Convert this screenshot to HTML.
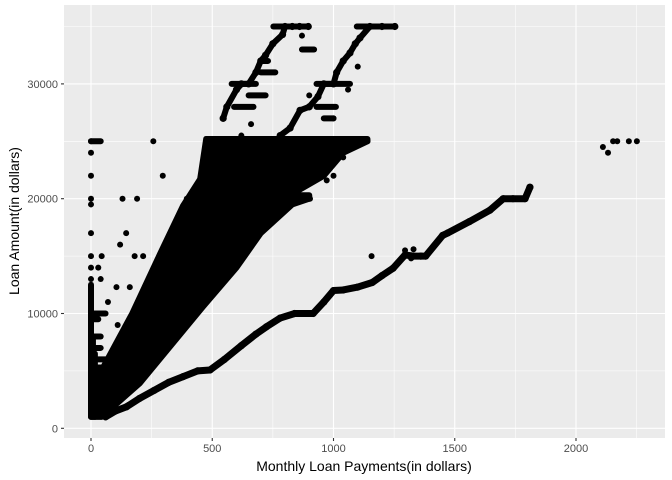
<!DOCTYPE html>
<html><head><meta charset="utf-8"><style>
body{margin:0;background:#fff}
svg{display:block;font-family:"Liberation Sans",Arial,sans-serif}
</style></head><body>
<svg id="chart" width="672" height="480">
<rect x="0" y="0" width="672" height="480" fill="#fff"/>
<rect x="64" y="5" width="601" height="433" fill="#EBEBEB"/>
<g id="grid"></g>
<g id="marks"></g>
<g id="axes"></g>
<text x="364" y="471" text-anchor="middle" font-size="14" fill="#000">Monthly Loan Payments(in dollars)</text>
<text transform="translate(19,221) rotate(-90)" text-anchor="middle" font-size="14" fill="#000">Loan Amount(in dollars)</text>
</svg>
<script>
const xTicks=[0,500,1000,1500,2000];
const xTickLabels=["0","500","1000","1500","2000"];
const yTicks=[0,10000,20000,30000];
const yTickLabels=["0","10000","20000","30000"];
const xMinor=[250,750,1250,1750,2250];
const yMinor=[5000,15000,25000,35000];
// dense main cloud outline (payment, amount)
const cloudX=[0,44,200,462,600,700,830,900,900,820,960,1040,1140,1140,475,450,380,285,170,50,0];
const cloudY=[1000,1000,3900,10600,14000,17000,19500,20000,20300,20300,22000,24000,25000,25200,25200,21700,19400,15200,10000,5300,5300];
// lower band
const lowX=[60,100,147,200,260,320,380,440,491,550,620,680,724,780,840,916,960,1000,1040,1100,1160,1200,1246,1295,1330,1360,1380,1450,1470,1560,1645,1700,1740,1790,1810];
const lowY=[1000,1500,1880,2600,3300,4000,4500,5000,5080,6000,7200,8200,8850,9600,10000,10000,11000,12000,12050,12300,12700,13300,13950,15100,15000,15000,15000,16800,17000,18000,19000,20000,20000,20000,21000];
// upper band 1
const b1X=[545,560,600,620,650,680,700,720,750,790,800,830,860,896];
const b1Y=[27000,28000,29500,30000,30000,31000,32000,32500,33500,34300,35000,35000,35000,35000];
// upper band 2
const b2X=[780,821,862,900,936,960,1000,1013,1040,1068,1090,1109,1150,1200,1253];
const b2Y=[25500,26150,27700,28000,28900,30000,30000,31000,32000,32700,33500,34000,35000,35000,35000];
// horizontal runs: start, end, amount
const hStart=[580,590,700,752,930,930,1096,0,395,475,600,0,0,0,0,0,0,20,700,870,960,650];
const hEnd=[680,670,730,896,1068,1010,1253,40,903,1140,900,60,60,40,40,30,25,60,760,920,1000,720];
const hAmt=[30000,28000,32000,35000,30000,28000,35000,25000,20000,25000,24000,6000,5000,7000,8000,9500,10000,10000,31000,33000,27000,29000];
// vertical runs at low payments: payment, from amount, to amount
const vX=[0,8,16,0];
const vFrom=[1000,1000,1000,10000];
const vTo=[10000,8000,6500,12500];
// scattered points
const sX=[0,0,0,0,0,0,0,0,0,0,0,257,296,130,190,145,120,44,180,215,105,160,1040,972,1000,1157,2111,2132,2153,2170,2218,2251,1295,1330,1320,440,480,560,600,40,70,110,620,660,900,1000,1060,1100,870,0,30];
const sY=[25000,24000,20000,19500,17000,15000,14000,13000,12000,11000,10000,25000,22000,20000,20000,17000,16000,15000,15000,15000,12300,12300,23600,21600,22000,15000,24500,24000,25000,25000,25000,25000,15500,15600,14800,21000,20000,18000,17500,13000,11000,9000,25500,26500,29000,27000,29500,31500,34200,22000,14000];

const sx=v=>91+v*0.2425;
const sy=v=>428.3-v*0.01148;
const NS="http://www.w3.org/2000/svg";
function mk(t,a,p){const e=document.createElementNS(NS,t);for(const k in a)e.setAttribute(k,a[k]);p.appendChild(e);return e;}
const grid=document.getElementById('grid'),marks=document.getElementById('marks'),axes=document.getElementById('axes');
xMinor.forEach(v=>{const e=mk('line',{x1:sx(v),x2:sx(v),y1:5,y2:438,stroke:'#fff','stroke-width':0.55},grid);

});
yMinor.forEach(v=>{const e=mk('line',{x1:64,x2:665,y1:sy(v),y2:sy(v),stroke:'#fff','stroke-width':0.55},grid);

});
xTicks.forEach((v,i)=>{const e=mk('line',{x1:sx(v),x2:sx(v),y1:5,y2:438,stroke:'#fff','stroke-width':1.1},grid);


const t=mk('line',{x1:sx(v),x2:sx(v),y1:438,y2:441,stroke:'#333','stroke-width':1.1},axes);


const l=mk('text',{x:sx(v),y:452,'text-anchor':'middle','font-size':11,fill:'#4D4D4D'},axes);l.textContent=xTickLabels[i];

});
yTicks.forEach((v,i)=>{const e=mk('line',{x1:64,x2:665,y1:sy(v),y2:sy(v),stroke:'#fff','stroke-width':1.1},grid);


const t=mk('line',{x1:61,x2:64,y1:sy(v),y2:sy(v),stroke:'#333','stroke-width':1.1},axes);


const l=mk('text',{x:58,y:sy(v)+4,'text-anchor':'end','font-size':11,fill:'#4D4D4D'},axes);l.textContent=yTickLabels[i];

});
const R=3;
const W=6;
const cloud=mk('polygon',{points:cloudX.map((x,i)=>sx(x)+','+sy(cloudY[i])).join(' '),fill:'#000',stroke:'#000','stroke-width':W,'stroke-linejoin':'round'},marks);


function band(X,Y,name,w){const p=mk('polyline',{points:X.map((x,i)=>sx(x)+','+sy(Y[i])).join(' '),fill:'none',stroke:'#000','stroke-width':w,'stroke-linejoin':'round','stroke-linecap':'round'},marks);


X.forEach((x,i)=>{const c=mk('circle',{cx:sx(x),cy:sy(Y[i]),r:R+0.6,fill:'#000'},marks);

});}
band(lowX,lowY,'lower-band',7);
band(b1X,b1Y,'upper-band-1',6);
band(b2X,b2Y,'upper-band-2',6);
hStart.forEach((s,i)=>{const e=mk('line',{x1:sx(s),x2:sx(hEnd[i]),y1:sy(hAmt[i]),y2:sy(hAmt[i]),stroke:'#000','stroke-width':W,'stroke-linecap':'round'},marks);

});
vX.forEach((x,i)=>{const e=mk('line',{x1:sx(x),x2:sx(x),y1:sy(vFrom[i]),y2:sy(vTo[i]),stroke:'#000','stroke-width':W,'stroke-linecap':'round'},marks);

});
sX.forEach((x,i)=>{const c=mk('circle',{cx:sx(x),cy:sy(sY[i]),r:R,fill:'#000'},marks);

});
</script>
</body></html>
